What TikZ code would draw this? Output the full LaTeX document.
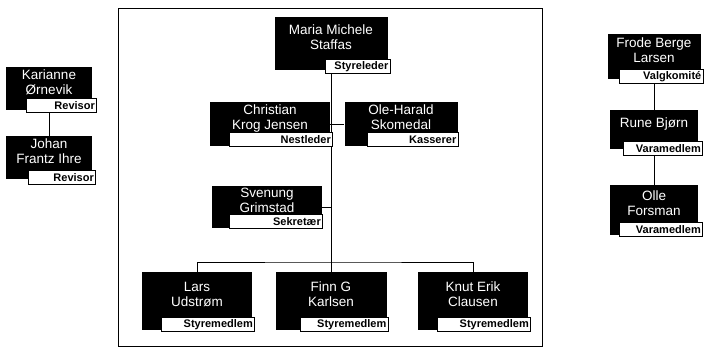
\documentclass[tikz,border=0pt]{standalone}
\usepackage{fontspec}
\setmainfont{Liberation Sans}
\usetikzlibrary{backgrounds}

\begin{document}
\begin{tikzpicture}[x=1pt, y=-1pt,
        person/.style={rectangle, fill=black, text=white, align=center, inner sep=0pt, text depth=14pt, font=\fontsize{13.5}{15}\selectfont},
        role/.style={rectangle, draw, fill=white, line width=0.8pt, anchor=south east, text width=#1, minimum height=14pt, align=right, inner xsep=2pt, inner ysep=1pt, font=\fontsize{11}{12}\selectfont\bfseries}
    ]
    \useasboundingbox (0,0) rectangle (707,352);

    % Styret
    \draw[line width=0.8pt] (118,8) rectangle (542,346);
    \node[person, minimum width=113pt, minimum height=53pt] (maria) at (331,44) {Maria Michele\\Staffas};
    \node[person, minimum width=120pt, minimum height=44pt] (christian) at (270,124) {Christian\\Krog Jensen};
    \node[person, minimum width=113pt, minimum height=44pt] (oleharald) at (401,124) {Ole-Harald\\Skomedal};
    \node[person, minimum width=110pt, minimum height=42pt] (svenung) at (267,207) {Svenung\\Grimstad};
    \node[person, minimum width=110pt, minimum height=58pt] (lars) at (197,301) {Lars\\Udstrøm};
    \node[person, minimum width=111pt, minimum height=58pt] (finn) at (331,301) {Finn G\\Karlsen};
    \node[person, minimum width=110pt, minimum height=58pt] (knut) at (473,301) {Knut Erik\\Clausen};

    \node[role=61pt] (maria-r) at ([xshift=3pt, yshift=-3pt]maria.south east) {Styreleder};
    \node[role=99pt] (christian-r) at ([xshift=3pt, yshift=-1pt]christian.south east) {Nestleder};
    \node[role=87pt] (oleharald-r) at ([xshift=1pt, yshift=-1pt]oleharald.south east) {Kasserer};
    \node[role=89pt] (svenung-r) at ([xshift=1pt, yshift=-1pt]svenung.south east) {Sekretær};
    \node[role=89pt] (lars-r) at ([xshift=3pt, yshift=-2pt]lars.south east) {Styremedlem};
    \node[role=84pt] (finn-r) at ([xshift=2pt, yshift=-2pt]finn.south east) {Styremedlem};
    \node[role=89pt] (knut-r) at ([xshift=3pt, yshift=-2pt]knut.south east) {Styremedlem};

    % Revisorer
    \node[person, minimum width=86pt, minimum height=43pt] (karianne) at (49,89) {Karianne\\Ørnevik};
    \node[person, minimum width=86pt, minimum height=43pt] (johan) at (49,158) {Johan\\Frantz Ihre};
    \node[role=66pt] (karianne-r) at ([xshift=5pt, yshift=-2pt]karianne.south east) {Revisor};
    \node[role=63pt] (johan-r) at ([xshift=4pt, yshift=-5pt]johan.south east) {Revisor};

    % Valgkomite og vara
    \node[person, minimum width=93pt, minimum height=45pt] (frode) at (654,57) {Frode Berge\\Larsen};
    \node[person, minimum width=88pt, minimum height=39pt] (rune) at (654,130) {Rune Bjørn};
    \node[person, minimum width=88pt, minimum height=50pt] (olle) at (654,210) {Olle\\Forsman};
    \node[role=80pt] (frode-r) at ([xshift=3pt, yshift=-4pt]frode.south east) {Valgkomité};
    \node[role=75pt] (rune-r) at ([xshift=5pt, yshift=-6pt]rune.south east) {Varamedlem};
    \node[role=79pt] (olle-r) at ([xshift=5pt, yshift=-2pt]olle.south east) {Varamedlem};

    % Linjer
    \coordinate (bar) at (331,262);
    \begin{scope}[on background layer, line width=0.8pt]
        \draw (maria) -- (finn);
        \draw (lars.north) |- (bar) -| (knut.north);
        \draw (christian) -- (oleharald);
        \draw (svenung) -- (svenung -| maria);
        \draw (karianne) -- (johan);
        \draw (frode) -- (rune);
        \draw (rune) -- (olle);
    \end{scope}

\end{tikzpicture}
\end{document}
